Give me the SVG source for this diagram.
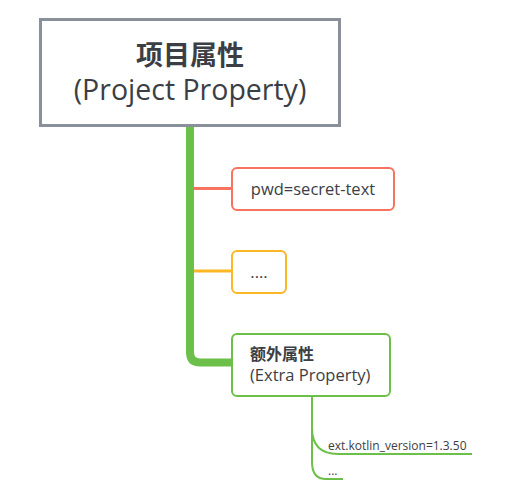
<svg xmlns="http://www.w3.org/2000/svg" width="520" height="504" viewBox="0 0 520 504">
<style>
.t{font-family:"Open Sans","Noto Sans CJK SC",sans-serif;fill:#3b3e44}
.b{font-weight:bold}
</style>
<rect width="520" height="504" fill="#fff"/>
<g id="connectors" fill="none" stroke-linecap="butt">
<path d="M190 126 V352 Q190 362.5 200 362.5 H232" stroke="#6cc04a" stroke-width="8"/>
<path d="M194 188.5 H232" stroke="#f7725f" stroke-width="3"/>
<path d="M194 271 H232" stroke="#fbb824" stroke-width="3"/>
<path d="M312 397 V428 Q312 454 338 454 H472" stroke="#6cc04a" stroke-width="2"/>
<path d="M312 428 V462 Q312 479 326 479 H343" stroke="#6cc04a" stroke-width="2"/>
</g>
<g id="root">
<rect x="40.5" y="19.5" width="299" height="106" fill="#fff" stroke="#8a909a" stroke-width="3"/>
<text class="t b" x="190" y="65" font-size="27" text-anchor="middle">项目属性</text>
<text class="t" x="190" y="100" font-size="28.5" text-anchor="middle">(Project Property)</text>
</g>
<g id="pwd">
<rect x="232" y="168" width="162" height="42" rx="5" fill="#fff" stroke="#f7725f" stroke-width="2"/>
<text class="t" x="313" y="195" font-size="16.5" text-anchor="middle">pwd=secret-text</text>
</g>
<g id="dots">
<rect x="232" y="251" width="54" height="42" rx="5" fill="#fff" stroke="#fbb824" stroke-width="2"/>
<text class="t" x="259" y="278" font-size="16.5" text-anchor="middle">....</text>
</g>
<g id="extra">
<rect x="232" y="334" width="158" height="62" rx="5" fill="#fff" stroke="#6cc04a" stroke-width="2"/>
<text class="t b" x="250" y="360" font-size="16">额外属性</text>
<text class="t" x="250" y="381" font-size="16.5">(Extra Property)</text>
</g>
<g id="kotlin">
<text class="t" x="328" y="450" font-size="12">ext.kotlin_version=1.3.50</text>
</g>
<g id="more">
<text class="t" x="328" y="475" font-size="12">...</text>
</g>
</svg>
